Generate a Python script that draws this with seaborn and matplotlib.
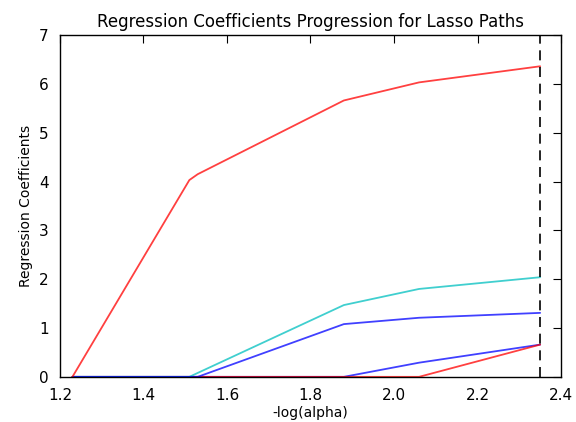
import matplotlib
matplotlib.use('Agg')
import matplotlib.pyplot as plt
import seaborn as sns
import pandas as pd

# -log(alpha) breakpoints of the lasso path
neg_log_alpha = [1.23, 1.51, 1.53, 1.88, 2.06, 2.35]

# coefficient values at each breakpoint (drawn in this order)
coef_blue2 = [0, 0, 0, 0, 0.29, 0.66]
coef_red2 = [0, 0, 0, 0, 0, 0.66]
coef_cyan = [0, 0, 0.08, 1.47, 1.80, 2.04]
coef_blue1 = [0, 0, 0, 1.08, 1.21, 1.31]
coef_red1 = [0, 4.03, 4.15, 5.66, 6.03, 6.36]

paths = {
    'f0': coef_blue2,
    'f1': coef_red2,
    'f2': coef_cyan,
    'f3': coef_blue1,
    'f4': coef_red1,
}
colors = {'f0': 'b', 'f1': 'r', 'f2': 'c', 'f3': 'b', 'f4': 'r'}

alpha_chosen = 2.35

rows = []
for name, vals in paths.items():
    for xv, yv in zip(neg_log_alpha, vals):
        rows.append({'feature': name, 'x': xv, 'coef': yv})
df = pd.DataFrame(rows)

sns.set_style('white')
plt.rcParams.update({
    'axes.edgecolor': 'black',
    'axes.linewidth': 1.0,
    'axes.labelcolor': 'black',
    'text.color': 'black',
    'xtick.color': 'black',
    'ytick.color': 'black',
    'xtick.direction': 'in',
    'ytick.direction': 'in',
    'xtick.top': True,
    'ytick.right': True,
    'xtick.major.size': 6,
    'ytick.major.size': 6,
    'xtick.major.pad': 8,
    'ytick.major.pad': 8,
    'xtick.labelsize': 11,
    'ytick.labelsize': 11,
})
plt.rcParams['font.family'] = ['DejaVu Sans']

fig = plt.figure(figsize=(5.76, 4.22), dpi=100)
ax = fig.add_axes([0.104, 0.107, 0.870, 0.810])

for name in paths:
    sub = df[df['feature'] == name]
    sns.lineplot(data=sub, x='x', y='coef', color=colors[name], alpha=0.75,
                 linewidth=1.3, estimator=None, sort=False, ax=ax)

ax.axvline(alpha_chosen, color='k', linestyle=(0, (6, 4)), linewidth=1.2)

ax.set_xlim(1.2, 2.4)
ax.set_ylim(0, 7)
ax.set_xticks([1.2, 1.4, 1.6, 1.8, 2.0, 2.2, 2.4])
ax.set_yticks(range(0, 8))
ax.set_xlabel('-log(alpha)', fontsize=10, labelpad=2)
ax.set_ylabel('Regression Coefficients', fontsize=10)
ax.set_title('Regression Coefficients Progression for Lasso Paths', fontsize=12)
for s in ax.spines.values():
    s.set_visible(True)

fig.savefig('out.png', dpi=100)
